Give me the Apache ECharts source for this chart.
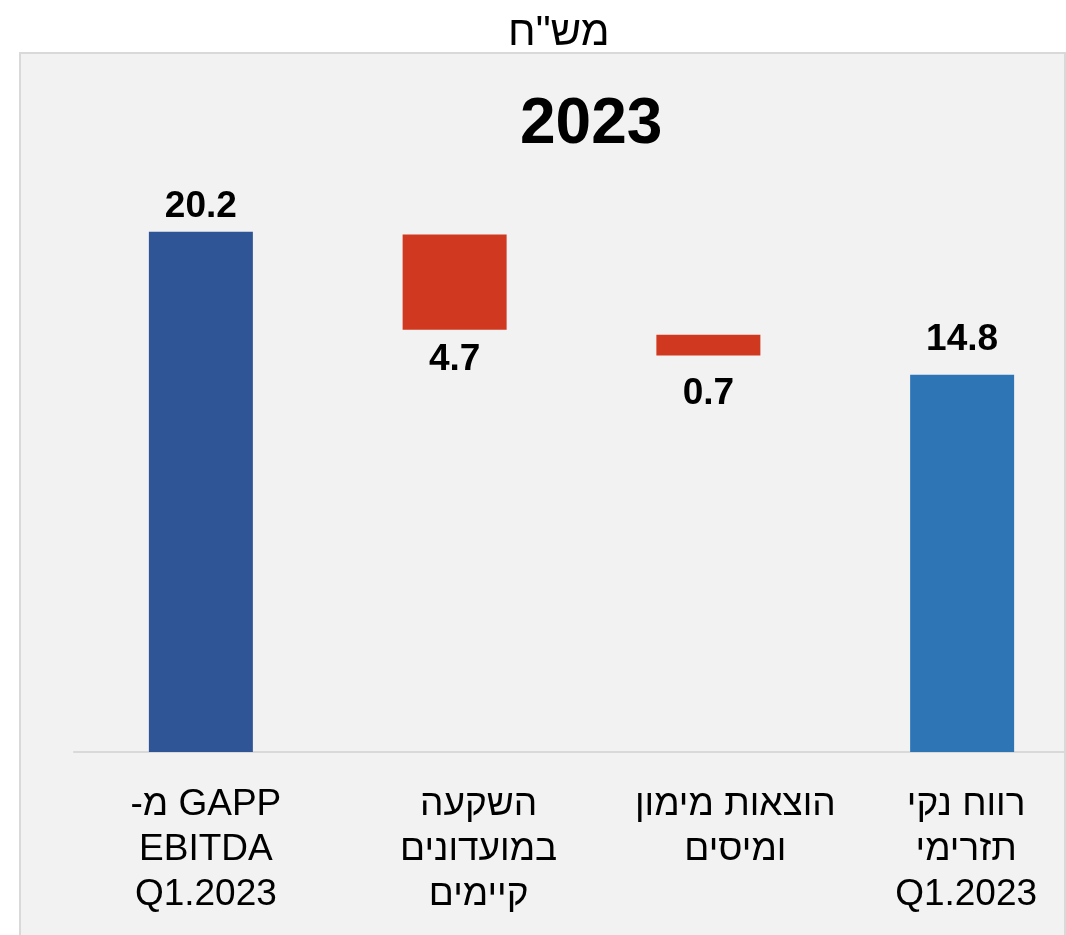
<!DOCTYPE html>
<html>
<head>
<meta charset="utf-8">
<script src="https://cdn.jsdelivr.net/npm/echarts@6/dist/echarts.min.js"></script>
<style>
  html, body { margin: 0; padding: 0; background: #ffffff; }
  #waterfall { width: 1066px; height: 935px; }
</style>
</head>
<body>
<div id="waterfall"></div>
<script>
// קטגוריות (שורות מופרדות ב-\n)
const categories = ['-מ GAPP\nEBITDA\nQ1.2023', 'השקעה\nבמועדונים\nקיימים', 'הוצאות מימון\nומיסים', 'רווח נקי\nתזרימי\nQ1.2023'];
// בסיס שקוף + גובה העמודה כפי שנמדדו מהתמונה
const baseValues = [0, 16.4, 15.4, 0];
const barValues = [20.2, 3.7, 0.8, 14.65];
// תוויות הערכים
const valueLabels = ['20.2', '4.7', '0.7', '14.8'];
const barKinds = ['total', 'decrease', 'decrease', 'total'];
const barColors = ['#2F5597', '#D0391F', '#D0391F', '#2E75B6'];

const chart = echarts.init(document.getElementById('waterfall'));

const fontFamily = "'Liberation Sans', Arial, sans-serif";

function barData() {
    return barValues.map((v, i) => {
        const isTotal = barKinds[i] === 'total';
        return {
            value: v,
            itemStyle: { color: barColors[i] },
            label: {
                position: isTotal ? 'top' : 'bottom',
                distance: [7, 12, 20, 16][i]
            }
        };
    });
}

// התוויות במקור מוזזות מעט ימינה ביחס לעמודות
function categoryData() {
    const shift = [10, 48, 54, 8];
    return categories.map((c, i) => ({
        value: c,
        textStyle: { padding: [0, 0, 0, shift[i]] }
    }));
}

chart.setOption({
    backgroundColor: '#ffffff',
    animation: false,
    graphic: [
        {
            type: 'rect',
            z: -10,
            shape: { x: 20, y: 53, width: 1045, height: 900 },
            style: { fill: '#f2f2f2', stroke: '#d9d9d9', lineWidth: 2 }
        }
    ],
    title: [
        {
            text: 'מש"ח',
            left: 508,
            top: 12,
            padding: 0,
            textStyle: { fontFamily: fontFamily, fontSize: 42, fontWeight: 'normal', color: '#000' }
        },
        {
            text: '2023',
            left: 520,
            top: 93,
            padding: 0,
            textStyle: { fontFamily: fontFamily, fontSize: 64, fontWeight: 'bold', color: '#000' }
        }
    ],
    grid: {
        left: 74,
        top: 134,
        width: 1015,
        height: 618,
        outerBoundsMode: 'none'
    },
    xAxis: {
        type: 'category',
        data: categoryData(),
        axisLine: { show: true, lineStyle: { color: '#d9d9d9', width: 2 } },
        axisTick: { show: false },
        axisLabel: {
            interval: 0,
            margin: 30,
            color: '#000',
            fontFamily: fontFamily,
            fontSize: 37,
            lineHeight: 45
        }
    },
    yAxis: {
        type: 'value',
        min: 0,
        max: 24,
        show: false,
        splitLine: { show: false }
    },
    series: [
        {
            name: 'base',
            type: 'bar',
            stack: 'wf',
            barWidth: 104,
            itemStyle: { color: 'transparent' },
            emphasis: { disabled: true },
            data: baseValues
        },
        {
            name: 'value',
            type: 'bar',
            stack: 'wf',
            barWidth: 104,
            label: {
                show: true,
                fontFamily: fontFamily,
                fontSize: 37,
                fontWeight: 'bold',
                color: '#000',
                formatter: (p) => valueLabels[p.dataIndex]
            },
            data: barData()
        }
    ]
});
</script>
</body>
</html>
